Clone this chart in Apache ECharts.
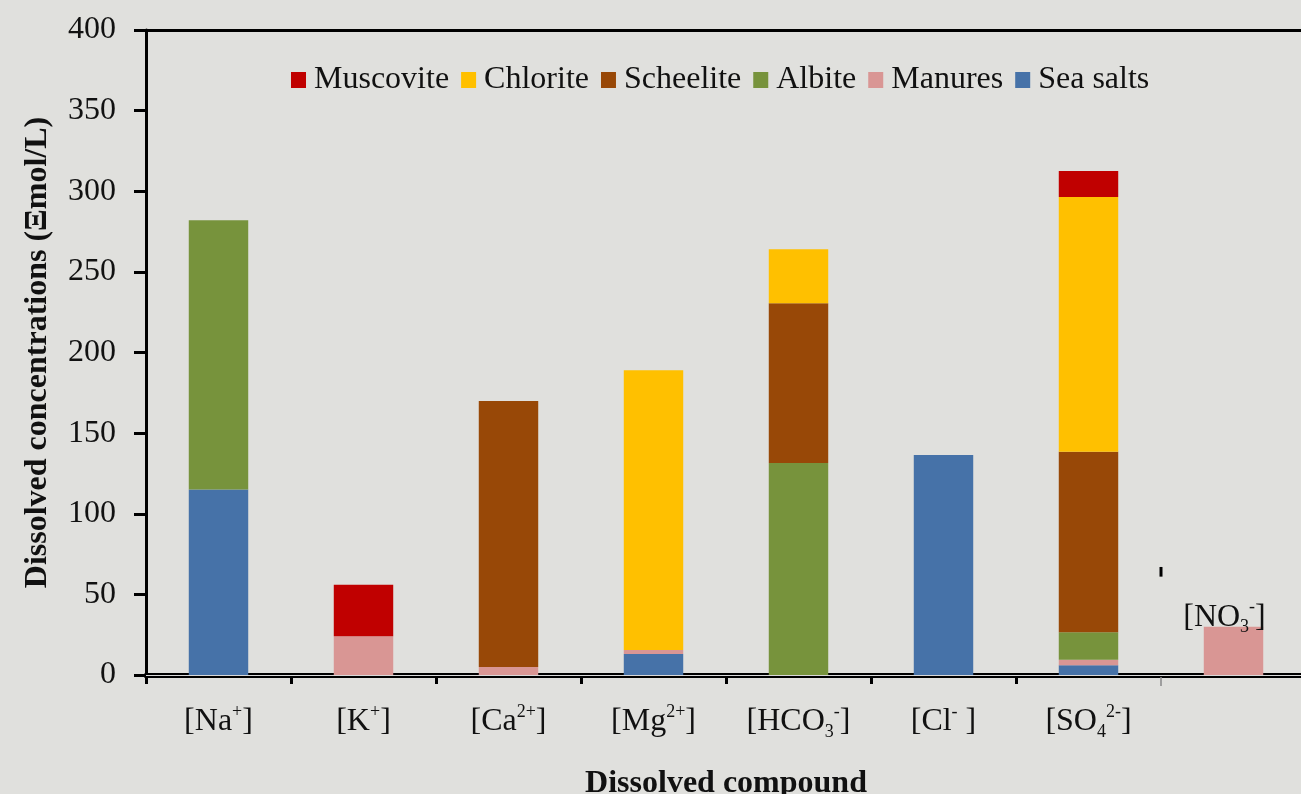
<!DOCTYPE html>
<html>
<head>
<meta charset="utf-8">
<script src="https://cdn.jsdelivr.net/npm/echarts@6/dist/echarts.min.js"></script>
<style>
  html, body { margin: 0; padding: 0; background: #e0e0dd; }
  #chart { width: 1301px; height: 794px; }
</style>
</head>
<body>
<div id="chart"></div>
<script>
// Dissolved ions (µmol/L) split by source
const categories = ['Na', 'K', 'Ca', 'Mg', 'HCO3', 'Cl', 'SO4', 'NO3'];
const tickLabels = [
  '[Na{sp|+}]', '[K{sp|+}]', '[Ca{sp|2+}]', '[Mg{sp|2+}]',
  '[HCO{sb|3}{sp|-}]', '[Cl{sp|-} ]', '[SO{sb|4}{sp|2-}]', ''
];
const no3Label = '[NO{sb|3}{sp|-}]';

const seaSalts  = [115, 0, 0, 13, 0, 136.5, 6, 0];
const manures   = [0, 24, 5, 2.5, 0, 0, 3.5, 30];
const albite    = [167, 0, 0, 0, 131.5, 0, 17, 0];
const scheelite = [0, 0, 165, 0, 99, 0, 112, 0];
const chlorite  = [0, 0, 0, 173.5, 33.5, 0, 158, 0];
const muscovite = [0, 32, 0, 0, 0, 0, 16, 0];

const yTicks = { min: 0, max: 400, interval: 50 };

const FONT = '"Liberation Serif", "Times New Roman", serif';
const FS = 32;
const BG = '#e0e0dd';
const richText = {
  sp: { fontSize: 18, fontFamily: FONT, color: '#111', verticalAlign: 'top', lineHeight: 38 },
  sb: { fontSize: 18, fontFamily: FONT, color: '#111', verticalAlign: 'bottom', lineHeight: 32 }
};

const stackSeries = [
  { name: 'Sea salts', data: seaSalts,  color: '#4672a8' },
  { name: 'Manures',   data: manures,   color: '#d99694' },
  { name: 'Albite',    data: albite,    color: '#77933c' },
  { name: 'Scheelite', data: scheelite, color: '#984807' },
  { name: 'Chlorite',  data: chlorite,  color: '#ffc000' },
  { name: 'Muscovite', data: muscovite, color: '#c00000' }
];

const chart = echarts.init(document.getElementById('chart'));

const series = stackSeries.map(function (s) {
  const item = {
    name: s.name,
    type: 'bar',
    stack: 'total',
    barWidth: '41%',
    itemStyle: { color: s.color },
    data: s.data
  };
  if (s.name === 'Manures') {
    // the nitrate bar carries its own name above it
    item.data = s.data.map(function (v, i) {
      if (categories[i] !== 'NO3') return v;
      return {
        value: v,
        label: {
          show: true, position: 'top', offset: [-9, 15],
          formatter: no3Label, fontSize: FS, fontFamily: FONT, color: '#111',
          lineHeight: 38, rich: richText
        }
      };
    });
    item.markLine = {
      silent: true, symbol: 'none', label: { show: false },
      lineStyle: { color: '#d8d8d8', width: 1, type: 'solid' },
      data: [{ yAxis: 0 }]
    };
  }
  return item;
});

chart.setOption({
  backgroundColor: BG,
  animation: false,
  grid: { left: 146, top: 30, width: 1160, height: 645, outerBoundsMode: 'none', containLabel: false },
  legend: {
    data: ['Muscovite', 'Chlorite', 'Scheelite', 'Albite', 'Manures', 'Sea salts'],
    left: 286, top: 59,
    itemWidth: 15, itemHeight: 16, itemGap: 12,
    icon: 'rect',
    textStyle: { fontSize: FS, fontFamily: FONT, color: '#111', padding: [0, 0, 0, 3] }
  },
  xAxis: [{
    type: 'category',
    data: categories,
    name: 'Dissolved compound',
    nameLocation: 'middle',
    nameGap: 93,
    nameTextStyle: { fontSize: FS, fontWeight: 'bold', fontFamily: FONT, color: '#111' },
    axisLine: { lineStyle: { color: '#000', width: 5 } },
    axisTick: { show: true, interval: 0, length: 9, lineStyle: { color: '#000', width: 3 } },
    axisLabel: {
      interval: 0,
      margin: 28, fontSize: FS, fontFamily: FONT, color: '#111', lineHeight: 38,
      rich: richText,
      formatter: function (v, i) { return tickLabels[i]; }
    }
  }, {
    // top frame line
    type: 'category',
    data: categories,
    position: 'top',
    axisLine: { show: true, lineStyle: { color: '#000', width: 3 } },
    axisTick: { show: false },
    axisLabel: { show: false }
  }],
  yAxis: {
    type: 'value',
    min: yTicks.min, max: yTicks.max, interval: yTicks.interval,
    name: 'Dissolved concentrations (\u039Emol/L)',
    nameLocation: 'middle',
    nameGap: 92,
    nameRotate: 90,
    nameTextStyle: { fontSize: FS, fontWeight: 'bold', fontFamily: FONT, color: '#111' },
    axisLine: { show: true, lineStyle: { color: '#000', width: 3 } },
    axisTick: { show: true, inside: false, length: 12, lineStyle: { color: '#000', width: 3 } },
    splitLine: { show: false },
    axisLabel: { margin: 30, fontSize: FS, fontFamily: FONT, color: '#111' }
  },
  series: series
});

// the boundary tick before the nitrate column is thin and grey; a stray dash sits above it
const base = chart.convertToPixel({ gridIndex: 0 }, [6, 0]);
const next = chart.convertToPixel({ gridIndex: 0 }, [7, 0]);
const bx = (base[0] + next[0]) / 2;
const dashTop = chart.convertToPixel({ gridIndex: 0 }, [7, 67])[1];
const dashBot = chart.convertToPixel({ gridIndex: 0 }, [7, 61])[1];
chart.setOption({
  graphic: [
    { type: 'rect', shape: { x: bx - 3, y: base[1] + 3, width: 6, height: 9 },
      style: { fill: BG }, z: 100 },
    { type: 'line', shape: { x1: bx, y1: base[1] + 2, x2: bx, y2: base[1] + 11 },
      style: { stroke: '#888', lineWidth: 1.5 }, z: 101 },
    { type: 'line', shape: { x1: bx, y1: dashTop, x2: bx, y2: dashBot },
      style: { stroke: '#000', lineWidth: 3 }, z: 100 }
  ]
});
</script>
</body>
</html>
